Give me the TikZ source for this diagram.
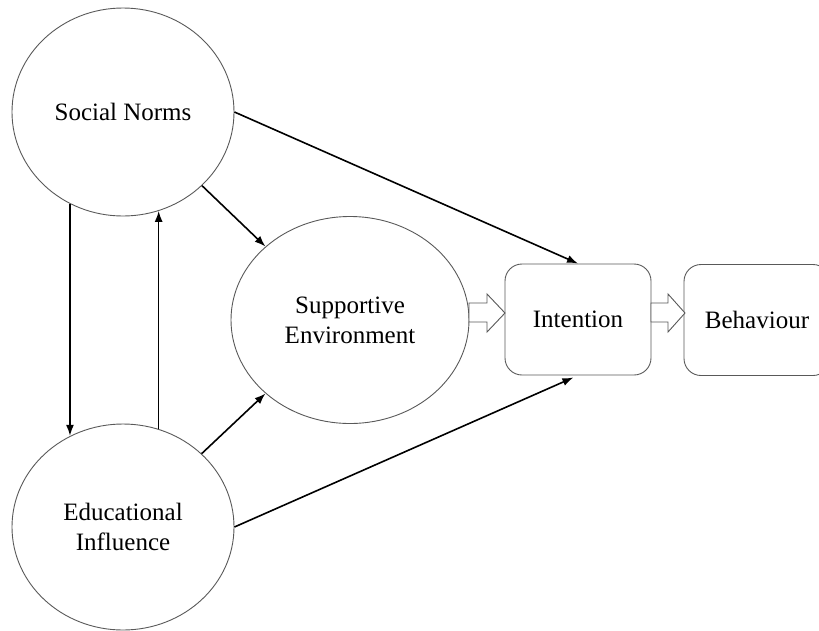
\documentclass[tikz,border=0pt]{standalone}
\usepackage{fontspec}
\setmainfont{Liberation Serif}
\usetikzlibrary{shapes.geometric,arrows.meta}
\definecolor{outline}{rgb}{0.35,0.35,0.35}

\begin{document}
\begin{tikzpicture}[x=1pt,y=-1pt,
        construct/.style={ellipse,draw=outline,line width=0.9pt,inner sep=0pt,align=center,font=\fontsize{25}{30}\selectfont},
        stage/.style={rectangle,rounded corners=17pt,draw=outline,line width=0.9pt,minimum width=146pt,minimum height=111pt,font=\fontsize{25}{30}\selectfont},
        link/.style={-{Latex[length=11pt,width=8pt]},line width=1.6pt},
        hollow/.style={draw=outline,fill=white,line width=0.9pt,line join=miter}]
        \useasboundingbox (0,0) rectangle (819,630);
        \clip (0,0) rectangle (819,630);
        % constructs
        \node[construct,minimum width=222pt,minimum height=208pt] (sn) at (123,112) {Social Norms};
        \node[construct,minimum width=222pt,minimum height=206pt] (edu) at (123,527) {Educational\\Influence};
        \node[construct,minimum width=238pt,minimum height=207pt] (supp) at (350,320) {Supportive\\Environment};
        % boxes
        \node[stage] (int) at (578,319.5) {Intention};
        \node[stage] (beh) at (757,320) {Behaviour};
        % block arrows
        \draw[hollow] (469,303) -- (487,303) -- (487,294) -- (505,313) -- (487,332) -- (487,322) -- (469,322) -- cycle;
        \draw[hollow] (651,303) -- (668,303) -- (668,294) -- (685,313) -- (668,332) -- (668,322) -- (651,322) -- cycle;
        % paths
        \draw[link] (sn.240) -- (sn.240 |- edu.120);
        \draw[link] (edu.70) -- (edu.70 |- sn.290);
        \draw[link] (sn.-43) -- (supp.139);
        \draw[link] (edu.43) -- (supp.221);
        \draw[link] (sn.east) -- (int.north);
        \draw[link,shorten >=5pt] (edu.east) -- (int.south);
    \end{tikzpicture}
\end{document}
